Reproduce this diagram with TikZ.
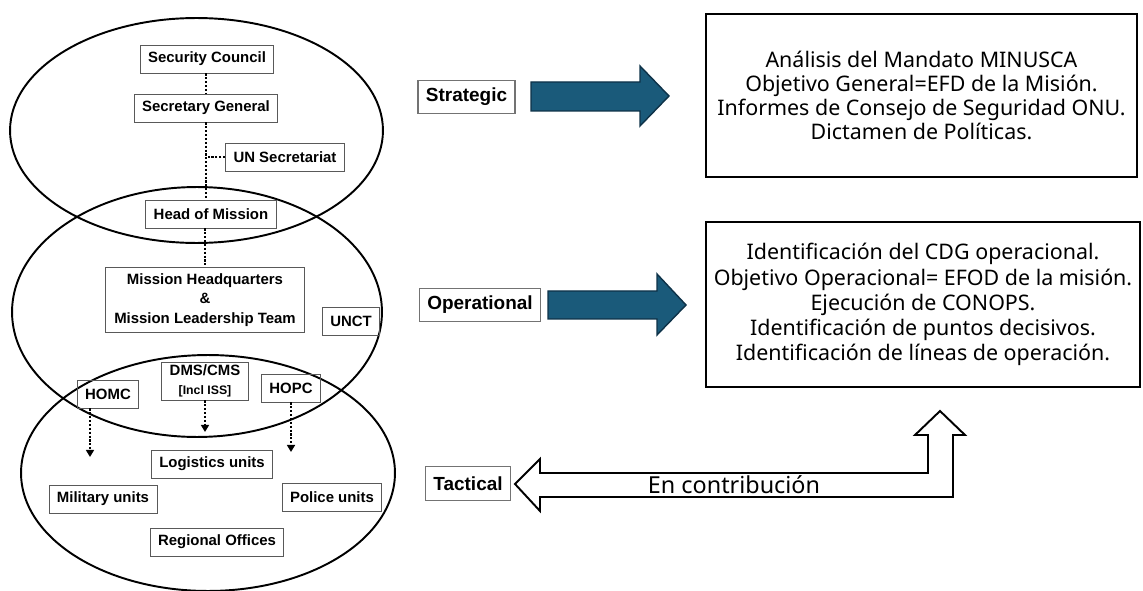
\documentclass[tikz,border=0pt]{standalone}
\usepackage{fontspec}
\setmainfont{Noto Sans}
\newfontfamily\orgfont{Liberation Sans}
\usetikzlibrary{arrows.meta,calc}
\definecolor{arrowblue}{RGB}{26,90,122}
\definecolor{arrowedge}{RGB}{14,50,72}
\begin{document}
\begin{tikzpicture}[x=0.02cm,y=-0.02cm,
        ring/.style={line width=1.1pt},
        orgbox/.style={draw=black!65,line width=0.5pt,font=\orgfont\bfseries\fontsize{8.5}{11}\selectfont,
            inner xsep=4.5pt,inner ysep=2pt,minimum height=16pt,align=center},
        lvlbox/.style={draw=black!55,line width=0.6pt,font=\orgfont\bfseries\fontsize{10.8}{13}\selectfont,
            inner xsep=4.5pt,minimum height=19pt},
        link/.style={densely dotted,line width=1.2pt},
        linkarrow/.style={link,-{Triangle[width=4.5pt,length=4pt]}},
        textbox/.style={draw,line width=1pt},
        blockarrow/.style={fill=arrowblue,draw=arrowedge,line width=0.8pt,line join=miter}]
    \useasboundingbox (0,0) rectangle (1143,591);
    %% Levels
    \draw[ring] (196.5,130.5) ellipse [x radius=3.73cm,y radius=2.25cm];
    \draw[ring] (197,312) ellipse [x radius=3.70cm,y radius=2.50cm];
    \draw[ring] (208,473) ellipse [x radius=3.74cm,y radius=2.36cm];
    %% Organisation
    \node[orgbox] (sc) at (207,59) {Security Council};
    \node[orgbox] (sg) at (206,108) {Secretary General};
    \node[orgbox] (uns) at (285,157) {UN Secretariat};
    \node[orgbox] (hom) at (211,214) {Head of Mission};
    \node[orgbox,minimum width=113pt,minimum height=37pt] (mhq) at (205,300)
        {Mission Headquarters\\\&\\Mission Leadership Team};
    \node[orgbox] (unct) at (351,321) {UNCT};
    \node[orgbox] (homc) at (108,394) {HOMC};
    \node[orgbox,inner ysep=1.5pt] (dms) at (205,381)
        {DMS/CMS\\{\fontsize{7}{8}\selectfont [Incl ISS]}};
    \node[orgbox] (hopc) at (291,388) {HOPC};
    \node[orgbox] (log) at (212,464) {Logistics units};
    \node[orgbox] (mil) at (103,499) {Military units};
    \node[orgbox] (pol) at (332,497) {Police units};
    \node[orgbox] (reg) at (217,542) {Regional Offices};
    %% Lines of authority
    \draw[link] (sc.south -| sg.south) -- (sg.north);
    \draw[link] (sg.south) -- (sg.south |- hom.north);
    \draw[link] (uns.west) -- (uns.west -| sg.south);
    \draw[link] (mhq.north |- hom.south) -- (mhq.north);
    \coordinate (milin) at (90,457);
    \coordinate (login) at (205,432);
    \coordinate (polin) at (291,452);
    \draw[linkarrow] (homc.south -| milin) -- (milin);
    \draw[linkarrow] (dms.south) -- (login);
    \draw[linkarrow] (hopc.south) -- (polin);
    %% Level names
    \node[lvlbox] (strat) at (466.5,97) {Strategic};
    \node[lvlbox] (oper) at (480,305) {Operational};
    \node[lvlbox] (tact) at (468,483.5) {Tactical};
    %% Block arrows
    \draw[blockarrow] (531,82) -- (640,82) -- (640,66) -- (669,96) -- (640,126) -- (640,111) -- (531,111) -- cycle;
    \draw[blockarrow] (548,291) -- (657,291) -- (657,274) -- (686,305) -- (657,335) -- (657,319) -- (548,319) -- cycle;
    \draw[line width=1.1pt,line join=miter] (515,484) -- (540,459) -- (540,473) -- (928,473) -- (928,435) -- (915,435)
        -- (940,411) -- (965,435) -- (953,435) -- (953,497) -- (540,497) -- (540,511) -- cycle;
    \node[font=\fontsize{13.3}{15}\selectfont] (contrib) at (734,485) {En contribución};
    %% Descriptions
    \node[textbox,minimum width=8.62cm,minimum height=3.26cm,align=center,
        font=\fontsize{12.2}{13.8}\selectfont] (sdesc) at (921.5,95.5)
        {Análisis del Mandato MINUSCA\\Objetivo General=EFD de la Misión.\\Informes de Consejo de Seguridad ONU.\\Dictamen de Políticas.};
    \node[textbox,minimum width=8.68cm,minimum height=3.3cm,align=center,
        font=\fontsize{12.2}{14.3}\selectfont] (odesc) at (923,304.5)
        {Identificación del CDG operacional.\\Objetivo Operacional= EFOD de la misión.\\Ejecución de CONOPS.\\Identificación de puntos decisivos.\\Identificación de líneas de operación.};
\end{tikzpicture}
\end{document}
